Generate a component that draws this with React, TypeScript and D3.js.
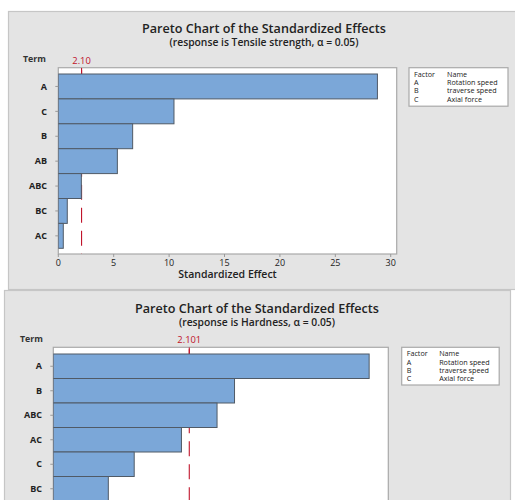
import React from "react";
import * as d3 from "d3";

// Tensile strength effects
const tensileTerms = ["A", "C", "B", "AB", "ABC", "BC", "AC"];
const tensileEffects = [28.8, 10.44, 6.71, 5.33, 2.08, 0.81, 0.45];
const tensileTicks = [0, 5, 10, 15, 20, 25, 30];
const tensileCritical = 2.1;
const tensileCriticalLabel = "2.10";

// Hardness effects
const hardnessTerms = ["A", "B", "ABC", "AC", "C", "BC", "AB"];
const hardnessEffects = [4.88, 2.8, 2.53, 1.98, 1.25, 0.85, 0.4];
const hardnessTicks = [0, 1, 2, 3, 4, 5];
const hardnessCritical = 2.101;
const hardnessCriticalLabel = "2.101";

// Factor legend
const factorCodes = ["A", "B", "C"];
const factorNames = ["Rotation speed", "traverse speed", "Axial force"];

const FONT = "'Open Sans', 'Noto Sans', sans-serif";
const BAR_FILL = "#7BA7D8";
const BAR_STROKE = "#505a66";
const REF_RED = "#C0142B";

type Layout = {
  panel: { x: number; y: number; w: number; h: number };
  plot: { x0: number; x1: number; y0: number; y1: number };
  xMax: number;
  barTop: number;
  barH: number;
  titleX: number;
  titleY: number;
  subY: number;
  termX: number;
  termY: number;
  labelX: number;
  legend: { x: number; y: number; w: number; h: number; nameDx: number };
};

function Pareto({
  terms,
  effects,
  ticks,
  critical,
  criticalLabel,
  response,
  layout,
}: {
  terms: string[];
  effects: number[];
  ticks: number[];
  critical: number;
  criticalLabel: string;
  response: string;
  layout: Layout;
}) {
  const { panel, plot, legend } = layout;
  const x = d3.scaleLinear().domain([0, layout.xMax]).range([plot.x0, plot.x1]);
  const y = d3
    .scaleBand<string>()
    .domain(terms)
    .range([layout.barTop, layout.barTop + layout.barH * terms.length])
    .padding(0);
  const clipId = `clip-${response.replace(/\s+/g, "")}`;
  const cx = x(critical);
  return (
    <g>
      <rect
        x={panel.x}
        y={panel.y}
        width={panel.w}
        height={panel.h}
        fill="#E4E4E4"
        stroke="#C6C6C6"
        strokeWidth={1.2}
      />
      <text
        x={layout.titleX}
        y={layout.titleY}
        textAnchor="middle"
        fontFamily={FONT}
        fontWeight={600}
        fontSize={12.6}
        fill="#222"
      >
        Pareto Chart of the Standardized Effects
      </text>
      <text
        x={layout.titleX}
        y={layout.subY}
        textAnchor="middle"
        fontFamily={FONT}
        fontWeight={600}
        fontSize={10.3}
        fill="#222"
      >
        {`(response is ${response}, \u03B1 = 0.05)`}
      </text>
      <text
        x={layout.termX}
        y={layout.termY}
        fontFamily={FONT}
        fontWeight={700}
        fontSize={8.8}
        fill="#333"
      >
        Term
      </text>
      <defs>
        <clipPath id={clipId}>
          <rect x={plot.x0} y={plot.y0} width={plot.x1 - plot.x0} height={plot.y1 - plot.y0} />
        </clipPath>
      </defs>
      <rect
        x={plot.x0}
        y={plot.y0}
        width={plot.x1 - plot.x0}
        height={plot.y1 - plot.y0}
        fill="#fff"
        stroke="#A9A9A9"
        strokeWidth={1.2}
      />
      <g clipPath={`url(#${clipId})`}>
        <line
          x1={cx}
          x2={cx}
          y1={plot.y0}
          y2={plot.y1}
          stroke={REF_RED}
          strokeWidth={1.1}
          strokeDasharray="15,8"
          strokeDashoffset={-2}
        />
        <line x1={cx} x2={cx} y1={plot.y0} y2={layout.barTop} stroke={REF_RED} strokeWidth={1.1} />
        {terms.map((t, i) => (
          <rect
            key={t}
            x={x(0)}
            y={y(t)!}
            width={x(effects[i]) - x(0)}
            height={y.bandwidth()}
            fill={BAR_FILL}
            stroke={BAR_STROKE}
            strokeWidth={1}
          />
        ))}
      </g>
      <text
        x={cx}
        y={plot.y0 - 4}
        textAnchor="middle"
        fontFamily={FONT}
        fontSize={9.4}
        fill={REF_RED}
      >
        {criticalLabel}
      </text>
      {terms.map((t) => {
        const yc = y(t)! + y.bandwidth() / 2;
        return (
          <g key={t}>
            <line x1={plot.x0 - 3} x2={plot.x0} y1={yc} y2={yc} stroke="#999" />
            <text
              x={layout.labelX}
              y={yc}
              dy="0.35em"
              textAnchor="end"
              fontFamily={FONT}
              fontWeight={700}
              fontSize={9}
              fill="#222"
            >
              {t}
            </text>
          </g>
        );
      })}
      {ticks.map((v) => (
        <g key={v}>
          <line x1={x(v)} x2={x(v)} y1={plot.y1} y2={plot.y1 + 3} stroke="#999" />
          <text
            x={x(v)}
            y={plot.y1 + 11.5}
            textAnchor="middle"
            fontFamily={FONT}
            fontSize={9}
            fill="#222"
          >
            {v}
          </text>
        </g>
      ))}
      <text
        x={(plot.x0 + plot.x1) / 2}
        y={plot.y1 + 23.5}
        textAnchor="middle"
        fontFamily={FONT}
        fontWeight={600}
        fontSize={10.5}
        fill="#222"
      >
        Standardized Effect
      </text>
      <rect
        x={legend.x}
        y={legend.y}
        width={legend.w}
        height={legend.h}
        fill="#fff"
        stroke="#A9A9A9"
        strokeWidth={1.2}
      />
      <g fontFamily={FONT} fontSize={7.2} fill="#222">
        <text x={legend.x + 5} y={legend.y + 9}>Factor</text>
        <text x={legend.x + legend.nameDx} y={legend.y + 9}>Name</text>
        {factorCodes.map((c, i) => (
          <g key={c}>
            <text x={legend.x + 5} y={legend.y + 17.3 + i * 8.3}>{c}</text>
            <text x={legend.x + legend.nameDx} y={legend.y + 17.3 + i * 8.3}>
              {factorNames[i]}
            </text>
          </g>
        ))}
      </g>
    </g>
  );
}

const topLayout: Layout = {
  panel: { x: 8.5, y: 11.5, w: 510, h: 278 },
  plot: { x0: 58.3, x1: 396.7, y0: 67.7, y1: 254 },
  xMax: 30.54,
  barTop: 74,
  barH: 24.9,
  titleX: 264,
  titleY: 33,
  subY: 45.5,
  termX: 23,
  termY: 62,
  labelX: 47,
  legend: { x: 409, y: 67.7, w: 99, h: 38.5, nameDx: 38 },
};

const bottomLayout: Layout = {
  panel: { x: 4.5, y: 290.5, w: 506, h: 250 },
  plot: { x0: 53.3, x1: 388.3, y0: 347.3, y1: 532 },
  xMax: 5.176,
  barTop: 354,
  barH: 24.5,
  titleX: 257,
  titleY: 313,
  subY: 325.5,
  termX: 20,
  termY: 341.5,
  labelX: 42,
  legend: { x: 401.7, y: 347.3, w: 97.5, h: 37.7, nameDx: 37.5 },
};

export default function App() {
  return (
    <svg
      width={515}
      height={500}
      style={{ position: "absolute", left: 0, top: 0, background: "#fff" }}
    >
      <Pareto
        terms={tensileTerms}
        effects={tensileEffects}
        ticks={tensileTicks}
        critical={tensileCritical}
        criticalLabel={tensileCriticalLabel}
        response="Tensile strength"
        layout={topLayout}
      />
      <Pareto
        terms={hardnessTerms}
        effects={hardnessEffects}
        ticks={hardnessTicks}
        critical={hardnessCritical}
        criticalLabel={hardnessCriticalLabel}
        response="Hardness"
        layout={bottomLayout}
      />
    </svg>
  );
}
